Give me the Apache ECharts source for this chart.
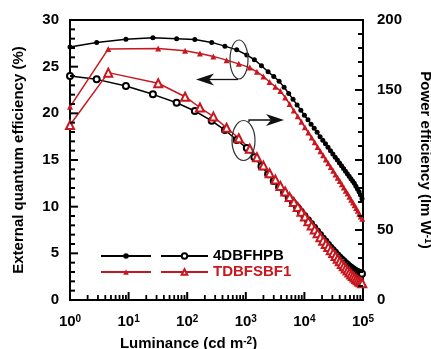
<!DOCTYPE html>
<html>
<head>
<meta charset="utf-8">
<script src="https://cdn.jsdelivr.net/npm/echarts@6/dist/echarts.min.js"></script>
<style>
  html, body { margin: 0; padding: 0; background: #fff; }
  #chart { width: 431px; height: 349px; }
</style>
</head>
<body>
<div id="chart"></div>
<script>
// 4DBFHPB
const lumA = [1, 2.85, 9, 26, 66, 135, 262, 440, 700, 1040,
  1400, 1850, 2400, 3000, 3700, 4500, 5400, 6400, 7500, 8700,
  10000, 11500, 13000, 14700, 16500, 18500, 20600, 22900, 25300, 27900,
  30600, 33500, 36500, 39700, 43000, 46500, 50200, 54000, 58000, 62200,
  66500, 71000, 75700, 80500, 85500, 90600, 96000];
const eqeA = [27.1, 27.6, 27.95, 28.1, 28.0, 27.9, 27.6, 27.2, 26.8, 26.25,
  25.75, 25.1, 24.45, 23.95, 23.45, 22.8, 22.13, 21.5, 20.9, 20.34,
  19.8, 19.3, 18.84, 18.4, 17.96, 17.5, 17.12, 16.73, 16.36, 15.99,
  15.64, 15.3, 14.99, 14.67, 14.38, 14.09, 13.79, 13.53, 13.26, 13.0,
  12.74, 12.5, 12.2, 11.9, 11.6, 11.25, 10.85];
const peA = [160, 157.6, 152.9, 146.9, 140.9, 135, 128, 121.4, 114.3, 108.5,
  102, 95.5, 89.8, 85, 80.7, 76.8, 73, 69.5, 66.2, 63,
  60, 57, 54.3, 51.6, 49, 46.4, 44, 41.7, 39.5, 37.4,
  35.5, 33.7, 32, 30.4, 29, 27.6, 26.3, 25.1, 24, 23,
  22.1, 21.3, 20.6, 20, 19.5, 19.1, 18.7];

// TDBFSBF1
const lumB = [1, 4.5, 32, 92, 165, 280, 470, 760, 1170, 1550,
  2000, 2550, 3200, 3900, 4700, 5600, 6600, 7700, 8900, 10200,
  11700, 13300, 15000, 16800, 18800, 20900, 23200, 25600, 28200, 31000,
  33900, 37000, 40200, 43600, 47100, 50800, 54700, 58700, 62900, 67300,
  71800, 76500, 81400, 86400, 91600, 97000];
const eqeB = [20.7, 26.9, 26.95, 26.7, 26.4, 26.1, 25.7, 25.3, 24.9, 24.45,
  23.95, 23.35, 22.85, 22.4, 21.7, 21.0, 20.3, 19.7, 19.1, 18.5,
  17.95, 17.4, 16.9, 16.4, 15.95, 15.5, 15.05, 14.65, 14.25, 13.85,
  13.45, 13.1, 12.75, 12.4, 12.05, 11.7, 11.4, 11.05, 10.75, 10.45,
  10.15, 9.85, 9.55, 9.25, 8.95, 8.7];
const peB = [125, 162.4, 154.8, 145.2, 137.5, 131, 123, 115.5, 108, 102,
  96, 90.5, 86, 81.5, 77.5, 73.5, 70, 66.5, 63, 59.6,
  56.3, 53.2, 50.3, 47.6, 44.9, 42.4, 40, 37.8, 35.6, 33.5,
  31.4, 29.4, 27.6, 25.8, 24.1, 22.5, 21, 19.6, 18.3, 17.1,
  16, 15, 14.1, 13.3, 12.6, 12];

const eqeTicks = [0, 5, 10, 15, 20, 25, 30];
const peTicks = [0, 50, 100, 150, 200];
const lumTicks = [1, 10, 100, 1000, 10000, 100000];

const FONT = '"Liberation Sans", Arial, sans-serif';
const RED = '#c8171e';
const pairs = (xs, ys) => xs.map((x, i) => [x, ys[i]]);

const bold = {color: '#000', fontFamily: FONT, fontWeight: 'bold', fontSize: 15};
const supRich = {sup: {fontFamily: FONT, fontWeight: 'bold', fontSize: 10, verticalAlign: 'top', lineHeight: 10}};

const annotations = [
  {type: 'ellipse', shape: {cx: 239, cy: 59.5, rx: 9, ry: 19.5}, style: {fill: 'none', stroke: '#333', lineWidth: 1.2}, z: 100},
  {type: 'line', shape: {x1: 238, y1: 79.5, x2: 208, y2: 79.5}, style: {stroke: '#111', lineWidth: 1.3}, z: 100},
  {type: 'polygon', shape: {points: [[196, 79.5], [214, 73.5], [209, 79.5], [214, 85.5]]}, style: {fill: '#111'}, z: 100},
  {type: 'ellipse', shape: {cx: 243.5, cy: 140.5, rx: 11.5, ry: 20}, style: {fill: 'none', stroke: '#333', lineWidth: 1.2}, z: 100},
  {type: 'polyline', shape: {points: [[249, 122], [249, 120], [276, 120]]}, style: {stroke: '#111', lineWidth: 1.3, fill: 'none'}, z: 100},
  {type: 'polygon', shape: {points: [[284, 120], [266, 114], [271, 120], [266, 126]]}, style: {fill: '#111'}, z: 100}
];

const chart = echarts.init(document.getElementById('chart'));
chart.setOption({
  animation: false,
  grid: {left: 70, right: 68, top: 20, bottom: 49, show: true, borderColor: '#000', borderWidth: 2,
    backgroundColor: 'transparent', outerBoundsMode: 'none', containLabel: false},
  xAxis: {
    type: 'log', logBase: 10, min: lumTicks[0], max: lumTicks[lumTicks.length - 1],
    axisLine: {lineStyle: {color: '#000', width: 2}},
    axisTick: {show: false},
    splitLine: {show: false},
    axisLabel: Object.assign({}, bold, {
      margin: 14, showMaxLabel: true, showMinLabel: true,
      formatter: v => '10{sup|' + Math.round(Math.log10(v)) + '}',
      rich: supRich
    }),
    name: 'Luminance (cd m{sup|-2})', nameLocation: 'middle', nameGap: 36,
    nameTextStyle: Object.assign({}, bold, {rich: supRich, padding: [0, 56, 0, 0]})
  },
  yAxis: [{
    type: 'value', min: eqeTicks[0], max: eqeTicks[eqeTicks.length - 1], interval: 5, position: 'left',
    axisLine: {show: true, lineStyle: {color: '#000', width: 2}},
    axisTick: {show: false}, splitLine: {show: false},
    axisLabel: Object.assign({}, bold, {margin: 11}),
    name: 'External quantum efficiency (%)', nameLocation: 'middle', nameGap: 44,
    nameTextStyle: bold
  }, {
    type: 'value', min: peTicks[0], max: peTicks[peTicks.length - 1], interval: 50, position: 'right',
    axisLine: {show: true, lineStyle: {color: '#000', width: 2}},
    axisTick: {show: false}, splitLine: {show: false},
    axisLabel: Object.assign({}, bold, {margin: 14}),
    name: 'Power efficiency (lm W{sup|-1})', nameLocation: 'middle', nameGap: 55, nameRotate: -90,
    nameTextStyle: Object.assign({}, bold, {rich: supRich})
  }],
  legend: [{
    data: ['4DBFHPB EQE', 'TDBFSBF1 EQE'],
    orient: 'vertical', left: 95, top: 243, itemWidth: 50, itemHeight: 7, itemGap: 0,
    formatter: () => ' ', textStyle: Object.assign({}, bold, {lineHeight: 16}),
    selectedMode: false
  }, {
    data: [
      {name: '4DBFHPB', textStyle: {color: '#000'}},
      {name: 'TDBFSBF1', textStyle: {color: RED}}
    ],
    orient: 'vertical', left: 155, top: 243, itemWidth: 47, itemHeight: 7, itemGap: 0,
    textStyle: Object.assign({}, bold, {lineHeight: 16}),
    selectedMode: false
  }],
  series: [{
    name: '4DBFHPB', type: 'line', yAxisIndex: 1, data: pairs(lumA, peA),
    symbol: 'emptyCircle', symbolSize: 6,
    itemStyle: {color: '#000', borderWidth: 1}, lineStyle: {color: '#000', width: 1.5}
  }, {
    name: 'TDBFSBF1', type: 'line', yAxisIndex: 1, data: pairs(lumB, peB),
    symbol: 'emptyTriangle', symbolSize: 8,
    itemStyle: {color: RED, borderWidth: 1}, lineStyle: {color: RED, width: 1.5}
  }, {
    name: '4DBFHPB EQE', type: 'line', yAxisIndex: 0, data: pairs(lumA, eqeA),
    symbol: 'circle', symbolSize: 5,
    itemStyle: {color: '#000'}, lineStyle: {color: '#000', width: 1.5}
  }, {
    name: 'TDBFSBF1 EQE', type: 'line', yAxisIndex: 0, data: pairs(lumB, eqeB),
    symbol: 'triangle', symbolSize: 6,
    itemStyle: {color: RED}, lineStyle: {color: RED, width: 1.5}
  }],
  graphic: annotations
});

// inward ticks on all three axes, placed through the grid's own scales
let ticksDone = false;
function drawTicks() {
  if (ticksDone) return;
  const toPx = (x, y, axis) => chart.convertToPixel({xAxisIndex: 0, yAxisIndex: axis || 0}, [x, y]);
  const lumMin = lumTicks[0], lumMax = lumTicks[lumTicks.length - 1];
  const xL = toPx(lumMin, 0)[0];
  const xR = toPx(lumMax, 0)[0];
  const yB = toPx(lumMin, eqeTicks[0])[1];
  if (![xL, xR, yB].every(isFinite)) return;
  const ticks = [];
  const bar = (x, y, w, h) => ticks.push({type: 'rect', shape: {x, y, width: w, height: h},
    style: {fill: '#000'}, z: 150});

  for (let v = eqeTicks[0]; v <= eqeTicks[eqeTicks.length - 1]; v += 1) {
    const y = toPx(lumMin, v, 0)[1];
    bar(xL, y - 1, v % 5 === 0 ? 8 : 5, 2);
  }
  for (let v = peTicks[0]; v <= peTicks[peTicks.length - 1]; v += 10) {
    const y = toPx(lumMin, v, 1)[1];
    const len = v % 50 === 0 ? 8 : 5;
    bar(xR - len, y - 1, len, 2);
  }
  lumTicks.forEach((d, i) => {
    const x = toPx(d, eqeTicks[0])[0];
    bar(x - 1, yB - 8, 2, 8);
    if (i < lumTicks.length - 1) {
      for (let k = 2; k <= 9; k++) {
        const xm = toPx(d * k, eqeTicks[0])[0];
        bar(xm - 0.9, yB - 5, 1.8, 5);
      }
    }
  });
  ticksDone = true;
  chart.setOption({graphic: annotations.concat(ticks)});
}
drawTicks();
chart.on('finished', drawTicks);
</script>
</body>
</html>
